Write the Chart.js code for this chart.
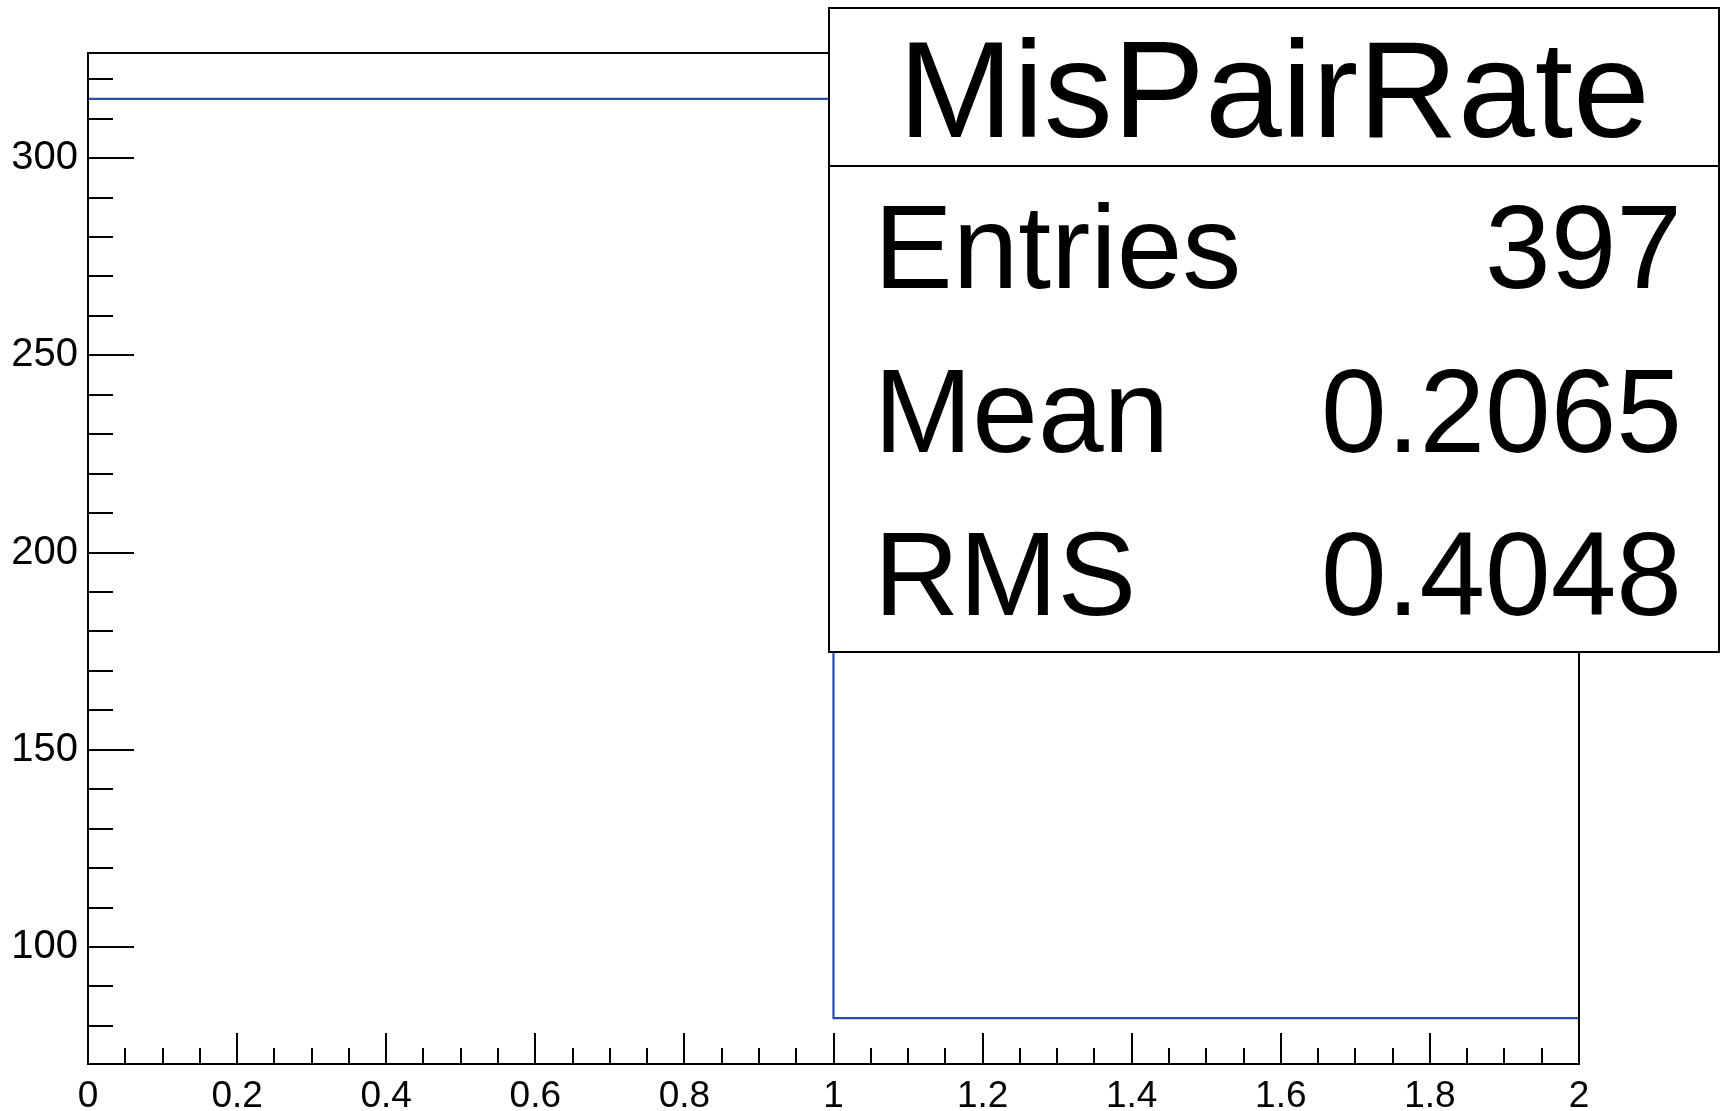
<!DOCTYPE html>
<html>
<head>
<meta charset="utf-8">
<title>MisPairRate</title>
<script src="https://cdn.jsdelivr.net/npm/chart.js@4.4.1/dist/chart.umd.min.js"></script>
<style>
  html, body { margin: 0; padding: 0; background: #ffffff; }
  canvas { display: block; }
</style>
</head>
<body>
<canvas id="hist" width="1727" height="1111"></canvas>
<script>
// Histogram bins: edges and counts
const binEdges = [0, 1, 2];
const binCounts = [315, 82];

// Axis ranges and tick labels
const xRange = [0, 2];
const yRange = [70.35, 326.65];
const xTicks = [0, 0.2, 0.4, 0.6, 0.8, 1, 1.2, 1.4, 1.6, 1.8, 2];
const xTickLabels = ['0', '0.2', '0.4', '0.6', '0.8', '1', '1.2', '1.4', '1.6', '1.8', '2'];
const yTicks = [100, 150, 200, 250, 300];
const yTickLabels = ['100', '150', '200', '250', '300'];

// Statistics box contents
const statsTitle = 'MisPairRate';
const statNames = ['Entries', 'Mean', 'RMS'];
const statValues = ['397', '0.2065', '0.4048'];

// Step outline of the histogram built from the bin edges
const outline = [];
for (let i = 0; i < binCounts.length; i++) {
  outline.push({ x: binEdges[i], y: binCounts[i] });
  outline.push({ x: binEdges[i + 1], y: binCounts[i] });
}

const FONT = '"Liberation Sans", Arial, Helvetica, sans-serif';

// Frame with inward-pointing major and minor ticks
const framePlugin = {
  id: 'frameTicks',
  afterDatasetsDraw(chart) {
    const { ctx, chartArea: a, scales: { x, y } } = chart;
    ctx.save();
    ctx.strokeStyle = '#000000';
    ctx.lineWidth = 2;
    ctx.strokeRect(a.left, a.top, a.right - a.left, a.bottom - a.top);

    const xMajorLen = 31, xMinorLen = 16;
    const yMajorLen = 46, yMinorLen = 25;
    ctx.beginPath();
    // x axis: major every 0.2, minor every 0.05
    const xMinorStep = 0.05;
    for (let k = 0; k <= Math.round((xRange[1] - xRange[0]) / xMinorStep); k++) {
      const v = xRange[0] + k * xMinorStep;
      const px = Math.round(x.getPixelForValue(v));
      const isMajor = k % 4 === 0;
      ctx.moveTo(px, a.bottom);
      ctx.lineTo(px, a.bottom - (isMajor ? xMajorLen : xMinorLen));
    }
    // y axis: major every 50, minor every 10
    const yMinorStep = 10;
    const first = Math.ceil(yRange[0] / yMinorStep) * yMinorStep;
    for (let v = first; v <= yRange[1]; v += yMinorStep) {
      const py = Math.round(y.getPixelForValue(v));
      const isMajor = v % 50 === 0;
      ctx.moveTo(a.left, py);
      ctx.lineTo(a.left + (isMajor ? yMajorLen : yMinorLen), py);
    }
    ctx.stroke();
    ctx.restore();
  }
};

// Statistics box drawn in the upper right corner
const statsPlugin = {
  id: 'statsBox',
  afterDraw(chart) {
    const { ctx } = chart;
    const L = 829, T = 8, R = 1719, B = 652, D = 166;
    ctx.save();
    ctx.fillStyle = '#ffffff';
    ctx.fillRect(L, T, R - L, B - T);
    ctx.strokeStyle = '#000000';
    ctx.lineWidth = 2;
    ctx.strokeRect(L, T, R - L, B - T);
    ctx.beginPath();
    ctx.moveTo(L, D);
    ctx.lineTo(R, D);
    ctx.stroke();

    ctx.fillStyle = '#000000';
    ctx.textBaseline = 'alphabetic';
    ctx.font = '138px ' + FONT;
    ctx.textAlign = 'center';
    ctx.fillText(statsTitle, (L + R) / 2, 137);

    ctx.font = '118px ' + FONT;
    const baselines = [288, 452, 615];
    for (let i = 0; i < statNames.length; i++) {
      ctx.textAlign = 'left';
      ctx.fillText(statNames[i], 874, baselines[i]);
      ctx.textAlign = 'right';
      ctx.fillText(statValues[i], 1682, baselines[i]);
    }
    ctx.restore();
  }
};

new Chart(document.getElementById('hist'), {
  type: 'line',
  data: {
    datasets: [{
      label: statsTitle,
      data: outline,
      borderColor: '#2b4bb0',
      borderWidth: 2.2,
      pointRadius: 0,
      fill: false,
      tension: 0
    }]
  },
  options: {
    responsive: false,
    animation: false,
    devicePixelRatio: 1,
    layout: { padding: { left: 0, top: 53, right: 148, bottom: 0 } },
    plugins: { legend: { display: false }, tooltip: { enabled: false }, title: { display: false } },
    scales: {
      x: {
        type: 'linear',
        min: xRange[0],
        max: xRange[1],
        border: { display: false },
        grid: { display: false, drawTicks: false, tickLength: 0 },
        afterBuildTicks: s => { s.ticks = xTicks.map(v => ({ value: v })); },
        afterFit: s => { s.height = 47; },
        ticks: {
          autoSkip: false,
          maxRotation: 0,
          padding: 11,
          color: '#000000',
          font: { family: FONT, size: 37 },
          callback: (v, i) => xTickLabels[i]
        }
      },
      y: {
        type: 'linear',
        min: yRange[0],
        max: yRange[1],
        border: { display: false },
        grid: { display: false, drawTicks: false, tickLength: 0 },
        afterBuildTicks: s => { s.ticks = yTicks.map(v => ({ value: v })); },
        afterFit: s => { s.width = 88; },
        ticks: {
          autoSkip: false,
          padding: 10,
          color: '#000000',
          font: { family: FONT, size: 40 },
          callback: (v, i) => yTickLabels[i]
        }
      }
    }
  },
  plugins: [framePlugin, statsPlugin]
});
</script>
</body>
</html>
